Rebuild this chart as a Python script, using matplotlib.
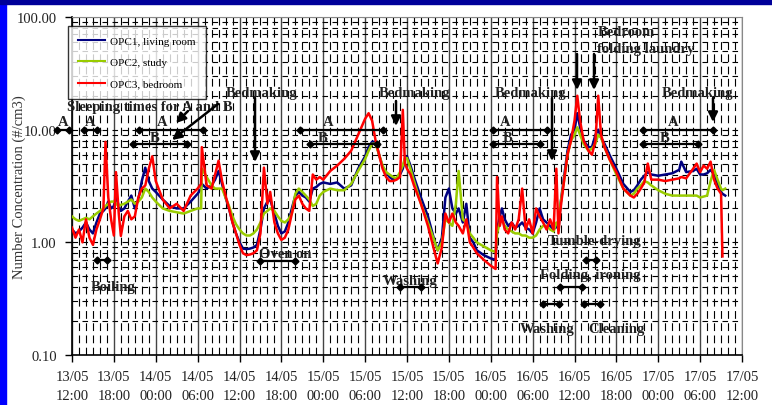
import numpy as np
import matplotlib
matplotlib.use("Agg")
import matplotlib.pyplot as plt
from matplotlib.patches import Rectangle
from matplotlib.ticker import FixedLocator, NullFormatter, LogLocator

plt.rcParams['font.family'] = ['Liberation Serif', 'DejaVu Serif']

# hours since 13/05 12:00
hours = [0, 0.5, 1, 1.5, 2, 2.5, 3, 3.5, 4, 4.5, 4.8, 5.2, 5.6, 6, 6.3, 6.7, 7, 7.5, 8, 8.5,
         9, 9.5, 10, 10.5, 11, 11.5, 12, 13, 14, 15, 16, 17, 18, 18.5, 18.6, 19.3, 20, 20.5, 21, 21.5,
         22, 22.5, 23, 23.5, 24, 24.5, 25, 25.5, 26, 26.5, 27, 27.5, 28, 28.4, 29, 29.5, 30, 30.5, 31, 31.5,
         32, 32.5, 33, 33.5, 34, 34.5, 35, 35.5, 36, 37, 38, 39, 40, 41, 42, 42.5, 43, 43.5, 44, 44.5,
         45, 45.5, 46, 46.5, 47, 47.4, 47.7, 48, 48.5, 49, 50, 51, 52, 52.4, 53, 53.5, 54, 54.5, 55, 55.4,
         56, 56.5, 57, 57.5, 58, 59, 60, 60.7, 60.9, 61.3, 61.6, 62, 62.5, 63, 63.5, 64, 64.5, 65, 65.5, 66,
         66.5, 67, 67.5, 68, 68.5, 69, 69.4, 69.7, 70, 70.5, 71, 71.5, 72, 72.4, 72.8, 73.3, 74, 74.5, 75, 75.4,
         75.8, 76.3, 77, 78, 79, 80, 80.5, 81, 81.5, 82, 82.5, 83, 84, 85, 86, 87, 87.3, 88, 89, 89.5,
         90, 90.5, 91, 91.5, 92, 92.5, 93, 93.2, 93.6]

opc1_living = [1.3, 1.2, 1.25, 1.35, 1.5, 1.3, 1.2, 1.5, 1.8, 1.9, 2.0, 2.3, 2.0, 2.1, 2.6, 2.1, 1.9, 2.0, 2.3, 2.6,
               2.0, 2.4, 3.5, 4.6, 3.5, 3.0, 2.8, 2.4, 2.1, 2.0, 2.0, 2.3, 2.7, 3.0, 3.3, 3.0, 3.2, 3.6, 4.3, 3.3,
               2.5, 2.0, 1.5, 1.2, 1.0, 0.88, 0.87, 0.88, 0.9, 0.95, 1.3, 2.0, 2.3, 2.4, 1.8, 1.4, 1.2, 1.25, 1.5, 2.0,
               2.6, 2.8, 2.6, 2.5, 2.3, 3.0, 3.1, 3.3, 3.4, 3.3, 3.4, 3.0, 3.2, 4.5, 5.8, 7.0, 7.8, 7.8, 6.0, 4.7,
               4.2, 3.8, 3.6, 3.7, 4.0, 4.5, 5.5, 5.8, 4.8, 3.8, 2.5, 1.7, 1.0, 0.85, 1.1, 2.5, 3.0, 2.0, 1.8, 2.0,
               1.5, 2.2, 1.1, 1.0, 0.85, 0.77, 0.72, 0.70, 1.3, 1.7, 2.0, 1.6, 1.4, 1.5, 1.35, 1.4, 1.5, 1.35, 1.3, 1.2,
               1.5, 2.0, 1.6, 1.5, 1.4, 1.3, 1.4, 1.3, 2.2, 3.8, 6.5, 9.0, 10.0, 14.0, 10.5, 8.0, 7.0, 7.0, 9.0, 10.0,
               8.5, 7.5, 6.0, 4.5, 3.3, 2.8, 2.9, 3.2, 3.6, 3.9, 4.2, 4.0, 3.9, 4.0, 4.1, 4.4, 5.2, 4.2, 4.3, 4.5,
               4.0, 4.0, 4.1, 4.4, 4.0, 3.3, 2.8, 2.7, 2.6]

opc2_study = [1.7, 1.6, 1.55, 1.6, 1.65, 1.6, 1.7, 1.8, 1.9, 2.0, 2.1, 2.2, 2.3, 2.3, 2.2, 2.1, 2.15, 2.2, 2.3, 2.4,
              2.2, 2.3, 2.5, 3.0, 2.8, 2.5, 2.3, 2.0, 1.9, 1.85, 1.8, 1.9, 2.0, 2.0, 4.5, 3.8, 3.2, 3.0, 3.0, 3.0,
              2.5, 2.1, 1.7, 1.45, 1.3, 1.2, 1.15, 1.15, 1.2, 1.3, 1.5, 1.8, 1.9, 2.0, 1.9, 1.7, 1.55, 1.5, 1.6, 1.8,
              2.7, 3.0, 2.8, 2.6, 2.4, 2.1, 2.2, 2.6, 2.8, 3.0, 2.9, 2.9, 3.3, 4.3, 5.5, 6.5, 7.5, 7.5, 6.0, 4.8,
              4.2, 4.0, 3.8, 3.7, 4.2, 4.8, 5.6, 5.6, 4.5, 3.5, 2.2, 1.5, 1.0, 0.85, 1.0, 1.6, 1.5, 1.4, 2.2, 4.3,
              1.6, 1.5, 1.2, 1.1, 1.0, 0.92, 0.85, 0.82, 1.2, 1.5, 1.6, 1.4, 1.3, 1.25, 1.2, 1.2, 1.15, 1.15, 1.1, 1.1,
              1.15, 1.3, 1.4, 1.4, 1.3, 1.25, 1.5, 1.4, 2.2, 3.5, 6.0, 8.0, 9.0, 10.5, 9.0, 7.5, 6.5, 6.8, 7.5, 9.0,
              8.5, 7.0, 5.5, 4.0, 3.0, 2.6, 2.7, 3.0, 3.2, 3.5, 3.4, 3.2, 2.9, 2.7, 2.6, 2.6, 2.6, 2.6, 2.6, 2.6,
              2.5, 2.55, 2.6, 3.5, 4.4, 3.6, 3.0, 2.9, 3.0]

opc3_bedroom = [1.35, 1.1, 1.3, 1.0, 1.6, 1.1, 0.95, 1.3, 1.6, 2.0, 7.8, 2.5, 1.6, 1.15, 4.2, 1.8, 1.14, 1.7, 1.9, 1.6,
                1.7, 2.5, 3.0, 3.2, 4.5, 5.8, 3.5, 2.4, 2.0, 2.2, 1.9, 2.6, 3.0, 3.3, 7.0, 3.2, 3.0, 4.0, 5.3, 3.5,
                2.6, 2.0, 1.5, 1.2, 0.95, 0.8, 0.77, 0.78, 0.8, 0.85, 1.2, 4.6, 2.2, 2.8, 1.5, 1.2, 1.05, 1.1, 1.3, 1.8,
                2.4, 2.6, 2.2, 2.0, 1.9, 4.0, 3.6, 3.8, 3.6, 4.3, 4.8, 5.5, 6.5, 9.0, 12.5, 14.0, 12.0, 8.0, 6.0, 4.5,
                3.8, 3.5, 3.5, 3.6, 3.8, 15.0, 5.0, 4.5, 4.0, 3.2, 2.2, 1.4, 0.8, 0.65, 0.9, 1.8, 1.5, 1.8, 1.5, 1.4,
                1.2, 1.6, 1.0, 0.9, 0.8, 0.7, 0.62, 0.58, 3.8, 1.4, 1.7, 1.3, 1.2, 1.5, 1.3, 1.6, 3.0, 1.3, 1.6, 1.2,
                2.0, 1.7, 1.5, 1.3, 1.6, 1.3, 4.5, 1.2, 2.0, 3.5, 6.0, 8.0, 12.0, 20.0, 12.0, 8.0, 6.5, 6.0, 8.0, 20.0,
                9.0, 7.0, 5.5, 4.2, 3.0, 2.6, 2.5, 2.7, 3.0, 3.4, 5.0, 3.6, 3.6, 3.5, 3.6, 3.7, 3.8, 3.7, 4.5, 5.0,
                4.2, 4.8, 4.5, 5.2, 3.6, 3.0, 2.7, 0.75, np.nan]

series_labels = ["OPC1, living room", "OPC2, study", "OPC3, bedroom"]
series_colors = ["#000080", "#99cc00", "#ff0000"]

tick_hours = list(range(0, 97, 6))
tick_labels = ["13/05\n12:00", "13/05\n18:00", "14/05\n00:00", "14/05\n06:00", "14/05\n12:00",
               "14/05\n18:00", "15/05\n00:00", "15/05\n06:00", "15/05\n12:00", "15/05\n18:00",
               "16/05\n00:00", "16/05\n06:00", "16/05\n12:00", "16/05\n18:00", "17/05\n00:00",
               "17/05\n06:00", "17/05\n12:00"]
y_ticks = [0.1, 1, 10, 100]
y_tick_labels = ["0.10", "1.00", "10.00", "100.00"]

W, H = 772, 406
fig = plt.figure(figsize=(W / 100, H / 100), dpi=100)
fig.patch.set_facecolor("white")
fig.patches.append(Rectangle((0, 0), 6 / W, 1, transform=fig.transFigure, color="#0000ff", zorder=0))
fig.patches.append(Rectangle((0, 1 - 5 / H), 1, 5 / H, transform=fig.transFigure, color="#000099", zorder=0))

L, R, T, B = 72, 742, 18, 356
ax = fig.add_axes([L / W, 1 - B / H, (R - L) / W, (B - T) / H])
ax.set_yscale("log")
ax.set_ylim(0.1, 100)
ax.set_xlim(0, 96)

# grid
ax.yaxis.set_minor_locator(LogLocator(base=10, subs=np.arange(1, 10)))
ax.yaxis.set_minor_formatter(NullFormatter())
ax.xaxis.set_minor_locator(FixedLocator([h for h in range(0, 97) if h % 6 != 0]))
ax.grid(True, which="minor", axis="y", color="black", lw=0.8, linestyle=(0, (5, 4)))
ax.grid(True, which="major", axis="y", color="black", lw=0.8, linestyle=(0, (5, 4)))
ax.grid(True, which="minor", axis="x", color="black", lw=0.8, linestyle=(0, (7, 4)))
ax.grid(True, which="major", axis="x", color="#444444", lw=1.0, linestyle="-")
ax.set_axisbelow(True)

for vals, lab, col in zip([opc1_living, opc2_study, opc3_bedroom], series_labels, series_colors):
    ax.plot(hours, vals, color=col, lw=1.8, label=lab, zorder=3)

ax.set_yticks(y_ticks)
ax.set_yticklabels(y_tick_labels, fontsize=10.5, color="#222222")
ax.set_xticks(tick_hours)
ax.set_xticklabels(tick_labels, fontsize=10.5, color="#222222", linespacing=1.6)
ax.tick_params(axis="both", which="major", direction="out", length=5, width=1, color="black", pad=6)
ax.tick_params(axis="both", which="minor", length=0)
ax.set_ylabel("Number Concentration (#/cm3)", fontsize=10.5, color="#333333", va="center")
ax.yaxis.set_label_coords((19 - L) / (R - L), 0.5)
for s in ["top", "right"]:
    ax.spines[s].set_color("#888888")
for s in ["left", "bottom"]:
    ax.spines[s].set_color("black")
    ax.spines[s].set_linewidth(1.2)

leg = fig.legend(loc="upper left", bbox_to_anchor=(68 / W, 1 - 27 / H), frameon=True, fancybox=False,
                 fontsize=8, handlelength=2.4, labelspacing=1.05, borderpad=0.9, handletextpad=0.5,
                 borderaxespad=0)
leg.get_frame().set_edgecolor("black")
leg.get_frame().set_linewidth(1.0)
for line in leg.get_lines():
    line.set_linewidth(1.5)


def px(x, y):
    return ((x - L) / (R - L), (B - y) / (B - T))


tkw = dict(transform=ax.transAxes, fontsize=10.5, fontweight="bold", color="#222222",
           ha="center", va="center", zorder=6, clip_on=False)


def label(x, y, s):
    ax.text(*px(x, y), s, **tkw)


def arrow(x0, y0, x1, y1):
    ax.annotate("", xy=px(x1, y1), xytext=px(x0, y0), xycoords="axes fraction", textcoords="axes fraction",
                arrowprops=dict(arrowstyle="-|>", lw=1.8, color="black", mutation_scale=14, shrinkA=0, shrinkB=0),
                zorder=6)


def span(x0, x1, y, lw=1.6):
    a, b = px(x0, y), px(x1, y)
    ax.plot([a[0], b[0]], [a[1], b[1]], transform=ax.transAxes, color="black", lw=lw,
            marker="D", ms=3.5, clip_on=False, zorder=6)


# sleeping times
label(150, 108, "Sleeping times for A and B")
arrow(188, 112, 176, 124)
arrow(218, 105, 172, 141)
for (x0, x1, xt) in [(57, 69, 63), (84, 97, 90), (139, 203, 162), (300, 383, 328), (493, 547, 505), (643, 713, 673)]:
    span(x0, x1, 131)
    label(xt, 123, "A")
for (x0, x1, xt) in [(133, 187, 155), (310, 377, 323), (493, 540, 508), (643, 698, 665)]:
    span(x0, x1, 145)
    label(xt, 138, "B")

# bedmaking
label(262, 93, "Bedmaking")
arrow(255, 99, 255, 163)
label(415, 93, "Bedmaking")
arrow(396, 102, 396, 127)
label(531, 93, "Bedmaking")
arrow(552, 99, 552, 162)
label(698, 93, "Bedmaking")
arrow(713, 99, 713, 123)
label(626, 32, "Bedroom")
label(646, 49, "folding laundry")
arrow(577, 55, 577, 91)
arrow(594, 55, 594, 91)

# activities
label(113, 288, "Boiling")
span(97, 107, 261)
label(285, 254, "Oven on")
span(260, 295, 262)
label(410, 281, "Washing")
span(400, 421, 288)
label(595, 242, "Tumble-drying")
span(586, 596, 261)
label(590, 276, "Folding, ironing")
span(560, 582, 288)
label(547, 329, "Washing")
span(543, 559, 305)
label(616, 329, "Cleaning")
span(584, 600, 305)

fig.savefig("out.png", dpi=100)
